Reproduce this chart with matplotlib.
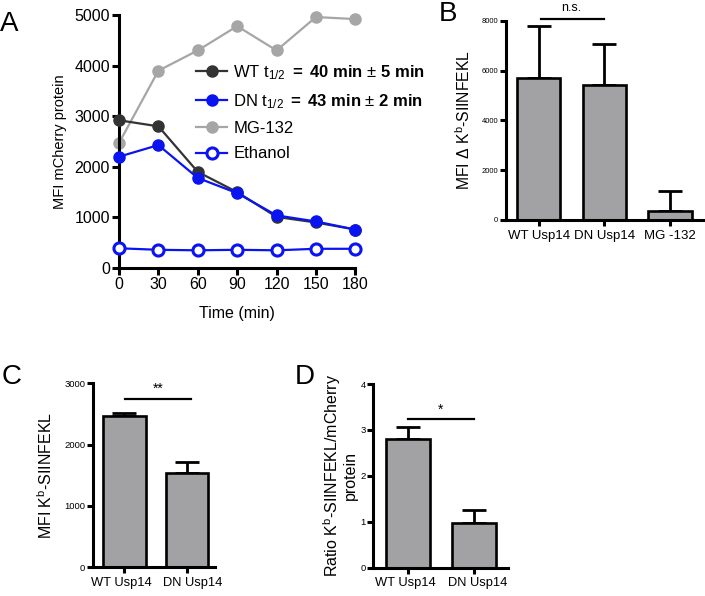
import matplotlib
matplotlib.use('Agg')
import matplotlib.pyplot as plt
from matplotlib.transforms import ScaledTranslation
import numpy as np

plt.rcParams['font.family'] = ['Liberation Sans', 'DejaVu Sans']
plt.rcParams['mathtext.fontset'] = 'custom'
plt.rcParams['mathtext.rm'] = 'Liberation Sans'
plt.rcParams['mathtext.it'] = 'Liberation Sans:italic'
plt.rcParams['mathtext.bf'] = 'Liberation Sans:bold'

# Panel A: mCherry decay over time
time_min = [0, 30, 60, 90, 120, 150, 180]
wt_mfi = [2920, 2800, 1900, 1500, 1010, 900, 760]
dn_mfi = [2200, 2430, 1780, 1480, 1040, 920, 760]
mg132_mfi = [2470, 3900, 4300, 4780, 4300, 4960, 4920]
ethanol_mfi = [390, 360, 350, 360, 350, 380, 380]

# Panel B
b_groups = ['WT Usp14', 'DN Usp14', 'MG -132']
b_means = [5680, 5420, 380]
b_err = [2120, 1630, 800]

# Panel C
c_groups = ['WT Usp14', 'DN Usp14']
c_means = [2467, 1532]
c_err = [55, 190]

# Panel D
d_groups = ['WT Usp14', 'DN Usp14']
d_means = [2.80, 0.97]
d_err = [0.26, 0.28]

BAR_GRAY = '#a2a2a5'
SPINE_W = 2.2


def style_axes(ax, tick_size):
    for s in ['top', 'right']:
        ax.spines[s].set_visible(False)
    for s in ['left', 'bottom']:
        ax.spines[s].set_linewidth(SPINE_W)
    ax.tick_params(width=SPINE_W, length=4, labelsize=tick_size, pad=1.5)


def bar_panel(ax, groups, means, errs, xlim, ylim, yticks, tick_size, width,
              xlab_size=9.5, xlab_shift=None):
    x = np.arange(len(groups))
    ax.bar(x, means, width=width, color=BAR_GRAY, edgecolor='black',
           linewidth=1.9, zorder=2)
    ax.errorbar(x, means, yerr=[np.zeros(len(errs)), errs], fmt='none',
                ecolor='black', elinewidth=2.0, capsize=8.5, capthick=2.0,
                zorder=1)
    ax.set_xlim(*xlim)
    ax.set_ylim(*ylim)
    ax.set_yticks(yticks)
    ax.set_xticks(x)
    ax.set_xticklabels(groups, fontsize=xlab_size)
    style_axes(ax, tick_size)
    ax.tick_params(axis='x', labelsize=xlab_size, pad=3)
    if xlab_shift:
        for lab, dx in zip(ax.get_xticklabels(), xlab_shift):
            lab.set_transform(lab.get_transform() +
                              ScaledTranslation(dx / 100, 0, fig.dpi_scale_trans))


fig = plt.figure(figsize=(7.05, 5.96), dpi=100)

# ---- A ----
axA = fig.add_axes([0.1688, 0.5503, 0.3352, 0.4245])
axA.plot(time_min, mg132_mfi, '-o', color='#a6a6a6', ms=8, lw=1.6,
         label='MG-132', clip_on=False, zorder=2)
axA.plot(time_min, wt_mfi, '-o', color='#333333', ms=8, lw=1.6,
         label=r'WT t$_{1/2}$ $\mathbf{=\ 40\ min}$ ± $\mathbf{5\ min}$',
         clip_on=False, zorder=3)
axA.plot(time_min, dn_mfi, '-o', color='#0a14f0', ms=8, lw=1.6,
         label=r'DN t$_{1/2}$ $\mathbf{=\ 43\ min}$ ± $\mathbf{2\ min}$',
         clip_on=False, zorder=4)
axA.plot(time_min, ethanol_mfi, '-o', color='#0a14f0', ms=8, lw=1.6,
         mfc='white', mew=2.2, label='Ethanol', clip_on=False, zorder=4)
axA.set_xlim(0, 180)
axA.set_ylim(0, 5000)
axA.set_xticks(time_min)
axA.set_yticks([0, 1000, 2000, 3000, 4000, 5000])
style_axes(axA, 11.5)
axA.tick_params(length=5)
axA.set_xlabel('Time (min)', fontsize=11.5, labelpad=10)
axA.set_ylabel('MFI mCherry protein', fontsize=10.5, labelpad=5)
h, l = axA.get_legend_handles_labels()
order = [1, 2, 0, 3]
axA.legend([h[i] for i in order], [l[i] for i in order], loc='upper left',
           bbox_to_anchor=(0.325, 0.81), frameon=False, fontsize=12,
           handlelength=1.9, handletextpad=0.35, labelspacing=0.62,
           borderpad=0, borderaxespad=0)

# ---- B ----
axB = fig.add_axes([0.7173, 0.6309, 0.2799, 0.3344])
bar_panel(axB, b_groups, b_means, b_err, (-0.5, 2.5), (0, 8000),
          [0, 2000, 4000, 6000, 8000], 5.5, 0.66)
axB.set_ylabel(r'MFI $\Delta$ K$^{\mathrm{b}}$-SIINFEKL', fontsize=11.3, labelpad=6)
axB.plot([0.03, 1.0], [8080, 8080], color='black', lw=1.6, clip_on=False)
axB.text(0.5, 8250, 'n.s.', ha='center', va='bottom', fontsize=9)

# ---- C ----
axC = fig.add_axes([0.1319, 0.0482, 0.1730, 0.3087])
bar_panel(axC, c_groups, c_means, c_err, (-0.5, 1.45), (0, 3000),
          [0, 1000, 2000, 3000], 6.8, 0.68, xlab_size=9.3, xlab_shift=[-3, 6])
axC.set_ylabel(r'MFI K$^{\mathrm{b}}$-SIINFEKL', fontsize=11.5, labelpad=7)
axC.plot([0.01, 1.07], [2744, 2744], color='black', lw=1.6)
axC.text(0.54, 2790, '**', ha='center', va='bottom', fontsize=10)

# ---- D ----
axD = fig.add_axes([0.5295, 0.0475, 0.1911, 0.3082])
bar_panel(axD, d_groups, d_means, d_err, (-0.52, 1.51), (0, 4),
          [0, 1, 2, 3, 4], 6.8, 0.67, xlab_size=9.3, xlab_shift=[-2, 4])
axD.set_ylabel('Ratio K$^{\\mathrm{b}}$-SIINFEKL/mCherry\nprotein',
               fontsize=11.5, labelpad=2, linespacing=1.0)
axD.plot([0.0, 1.0], [3.23, 3.23], color='black', lw=1.6)
axD.text(0.5, 3.29, '*', ha='center', va='bottom', fontsize=10)

# panel letters
for lab, x, y in [('A', 0.0, 0.982), ('B', 0.622, 0.998),
                  ('C', 0.002, 0.39), ('D', 0.418, 0.39)]:
    fig.text(x, y, lab, fontsize=20, ha='left', va='top')

fig.savefig('out.png', dpi=100)
